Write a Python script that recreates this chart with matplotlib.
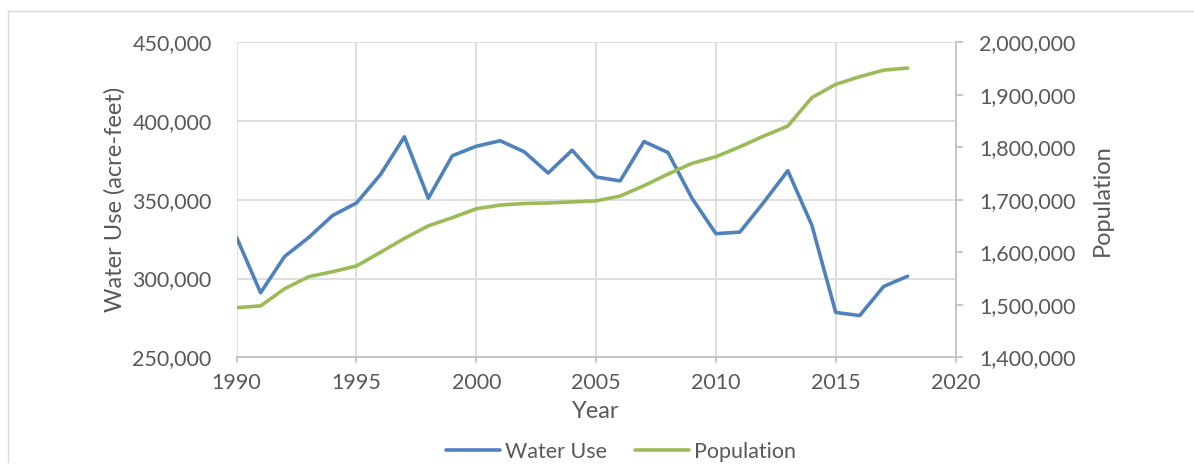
import matplotlib.pyplot as plt
from matplotlib.ticker import FuncFormatter, MultipleLocator
from matplotlib.lines import Line2D

# ---------------------------------------------------------------------------
# Data
# ---------------------------------------------------------------------------
years = list(range(1990, 2019))

water_use = [
    326000, 291000, 314000, 326000, 340000, 348000, 366000, 390000, 351000,
    378000, 384000, 387500, 380500, 367000, 381500, 364500, 362000, 387000,
    380000, 351000, 328500, 329500, 348500, 368500, 334000, 278500, 276500,
    295000, 301500,
]

population = [
    1494500, 1498000, 1530500, 1553500, 1563000, 1574000, 1600000, 1626500,
    1650500, 1666000, 1683000, 1690000, 1693000, 1694000, 1696000, 1698000,
    1707000, 1727000, 1749000, 1769500, 1782000, 1801000, 1821500, 1840500,
    1894500, 1920000, 1934500, 1947000, 1951000,
]

BLUE = "#4F81BD"
GREEN = "#9BBB59"
TEXT = "#595959"
GRID = "#D9D9D9"
AXIS = "#BFBFBF"

plt.rcParams["font.family"] = ["Lato", "DejaVu Sans"]

fig = plt.figure(figsize=(11.94, 4.68), dpi=100)
ax = fig.add_axes([0.1982, 0.2365, 0.6021, 0.6731])
ax2 = ax.twinx()

# chart border (light frame, left and top edges visible)
fig.add_artist(Line2D([8 / 1194, 8 / 1194], [1 - 11 / 468, 1 - 462 / 468],
                      color="#D9D9D9", lw=1, transform=fig.transFigure))
fig.add_artist(Line2D([8 / 1194, 1.0], [1 - 11 / 468, 1 - 11 / 468],
                      color="#D9D9D9", lw=1, transform=fig.transFigure))

l1, = ax.plot(years, water_use, color=BLUE, lw=2.6,
              solid_joinstyle="round", solid_capstyle="round", label="Water Use")
l2, = ax2.plot(years, population, color=GREEN, lw=2.6,
               solid_joinstyle="round", solid_capstyle="round", label="Population")

ax.set_xlim(1990, 2020)
ax.set_ylim(250000, 450000)
ax2.set_ylim(1400000, 2000000)

ax.xaxis.set_major_locator(MultipleLocator(5))
ax.yaxis.set_major_locator(MultipleLocator(50000))
ax2.yaxis.set_major_locator(MultipleLocator(100000))

fmt = FuncFormatter(lambda v, _: f"{int(v):,}")
ax.yaxis.set_major_formatter(fmt)
ax2.yaxis.set_major_formatter(fmt)

ax.grid(True, color=GRID, lw=1.2)
ax.set_axisbelow(True)

for s in ["top", "left", "right"]:
    ax.spines[s].set_visible(False)
for s in ["top", "left", "bottom"]:
    ax2.spines[s].set_visible(False)
ax.spines["bottom"].set_color(AXIS)
ax.spines["bottom"].set_linewidth(1.2)
ax2.spines["right"].set_color(AXIS)
ax2.spines["right"].set_linewidth(1.2)

# tick pads are in points (dpi 100 -> 1pt = 1.39px)
ax.tick_params(axis="x", colors=AXIS, labelcolor=TEXT, labelsize=15.5,
               length=4, width=1.2, pad=7)
ax.tick_params(axis="y", length=0, labelcolor=TEXT, labelsize=15.5, pad=18)
ax2.tick_params(axis="y", colors=AXIS, labelcolor=TEXT, labelsize=15.5,
                length=5, width=1.2, pad=12)

ax.set_xlabel("Year", color=TEXT, fontsize=17)
ax.set_ylabel("Water Use (acre-feet)", color=TEXT, fontsize=17)
ax2.set_ylabel("Population", color=TEXT, fontsize=17)
ax.xaxis.set_label_coords(0.5, -0.14)
ax.yaxis.set_label_coords(-0.155, 0.5)
ax2.yaxis.set_label_coords(1.19, 0.5)

fig.legend(handles=[l1, l2], loc="center", bbox_to_anchor=(0.52, 1 - 452 / 468),
           ncol=2, frameon=False, fontsize=15.5, labelcolor=TEXT,
           handlelength=2.5, handletextpad=0.25, columnspacing=1.3)

fig.savefig("out.png", dpi=100)
